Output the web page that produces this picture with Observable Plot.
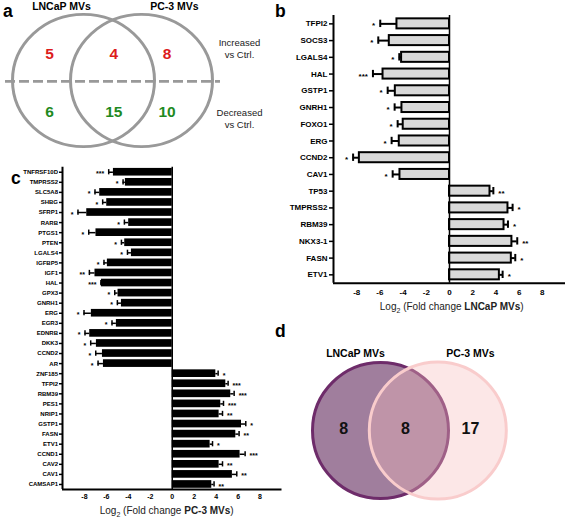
<!DOCTYPE html>
<html><head><meta charset="utf-8">
<script src="https://cdn.jsdelivr.net/npm/d3@7"></script>
<script src="https://cdn.jsdelivr.net/npm/@observablehq/plot@0.6"></script>
<style>
html,body{margin:0;padding:0;background:#fff;}
#fig{position:relative;width:567px;height:517px;overflow:hidden;font-family:"Liberation Sans",Arial,sans-serif;}
#fig > *{position:absolute;}
.lbl{font-weight:bold;font-size:17.5px;line-height:20px;color:#000;}
.ttl{font-size:10px;line-height:12px;color:#222;white-space:nowrap;transform:translate(-50%,-50%);}
.ttl sub{font-size:7px;line-height:0;}
</style></head><body><div id="fig"></div>
<script>
const FONT = "'Liberation Sans', Arial, sans-serif";

// ---- Panel a: Venn (increased / decreased vs Ctrl.)
const aSets = ["LNCaP MVs", "PC-3 MVs"];
const aIncreased = [5, 4, 8];     // LNCaP only, shared, PC-3 only
const aDecreased = [6, 15, 10];
const aRowLabels = ["Increased\nvs Ctrl.", "Decreased\nvs Ctrl."];

// ---- Panel b: LNCaP MVs
const bGenes = ["TFPI2","SOCS3","LGALS4","HAL","GSTP1","GNRH1","FOXO1","ERG","CCND2","CAV1","TP53","TMPRSS2","RBM39","NKX3-1","FASN","ETV1"];
const bValues = [-4.53,-5.19,-4.13,-5.73,-4.67,-4.10,-3.99,-4.33,-7.77,-4.27,3.49,5.04,4.70,5.38,5.33,4.30];
const bSem = [1.44,0.95,0.20,0.87,0.66,0.63,0.48,0.66,0.54,0.63,0.29,0.40,0.34,0.46,0.34,0.28];
const bSig = ["*","*","*","***","*","*","*","*","*","*","**","*","*","**","*","*"];

// ---- Panel c: PC-3 MVs
const cGenes = ["TNFRSF10D","TMPRSS2","SLC5A8","SHBG","SFRP1","RARB","PTGS1","PTEN","LGALS4","IGFBP5","IGF1","HAL","GPX3","GNRH1","ERG","EGR3","EDNRB","DKK3","CCND2","AR","ZNF185","TFPI2","RBM39","PES1","NRIP1","GSTP1","FASN","ETV1","CCND1","CAV2","CAV1","CAMSAP1"];
const cValues = [-5.36,-4.27,-6.61,-5.97,-7.79,-3.97,-6.95,-4.33,-3.72,-5.91,-7.04,-6.45,-4.94,-4.63,-7.37,-5.09,-7.52,-6.91,-6.36,-6.27,3.97,4.88,5.33,4.42,4.27,6.31,5.79,3.45,6.18,4.27,5.48,3.60];
const cSem = [0.43,0.21,0.43,0.37,0.80,0.39,0.66,0.30,0.36,0.31,0.51,0.05,0.30,0.37,0.67,0.40,0.43,0.52,0.61,0.49,0.21,0.21,0.31,0.25,0.31,0.39,0.30,0.22,0.46,0.31,0.40,0.21];
const cSig = ["***","*","*","*","*","*","*","*","*","*","**","***","*","*","*","*","*","*","*","*","*","***","***","***","**","*","**","*","***","**","**","**"];

// ---- Panel d: Venn
const dSets = ["LNCaP MVs", "PC-3 MVs"];
const dCounts = [8, 8, 17];

const xTicks = [-8,-6,-4,-2,0,2,4,6,8];

const fig = document.getElementById("fig");
function place(el, left, top) { el.style.left = left + "px"; el.style.top = top + "px"; fig.appendChild(el); return el; }
function html(cls, inner, left, top) { const d = document.createElement("div"); d.className = cls; d.innerHTML = inner; return place(d, left, top); }

function barPanel(genes, values, sem, sig, o) {
  const rows = genes.map((g, i) => ({i, gene: g, v: values[i], e: values[i] + Math.sign(values[i]) * sem[i], sig: sig[i]}));
  const n = genes.length;
  return Plot.plot({
    width: o.width, height: o.height,
    marginLeft: o.ml, marginRight: o.mr, marginTop: o.mt, marginBottom: o.mb,
    style: {fontFamily: FONT, fontWeight: "bold", fontSize: o.fs + "px", background: "transparent", overflow: "visible"},
    x: {domain: [-10, 10]},
    y: {domain: [-0.5, n - 0.5], reverse: true},
    marks: [
      Plot.ruleY(rows, {y: "i", x1: "v", x2: "e", stroke: "#000", strokeWidth: o.ew}),
      Plot.ruleX(rows, {x: "e", y1: d => d.i - o.cap, y2: d => d.i + o.cap, stroke: "#000", strokeWidth: o.ew}),
      Plot.rect(rows, {x1: 0, x2: "v", y1: d => d.i - o.bh, y2: d => d.i + o.bh, fill: o.fill, stroke: o.stroke, strokeWidth: o.sw}),
      Plot.text(rows.filter(d => d.v < 0), {x: "e", y: "i", text: "sig", textAnchor: "end", dx: -o.sdx, dy: o.sdy, fontSize: o.sfs}),
      Plot.text(rows.filter(d => d.v > 0), {x: "e", y: "i", text: "sig", textAnchor: "start", dx: o.sdx, dy: o.sdy, fontSize: o.sfs}),
      Plot.ruleX([0], {stroke: "#000", strokeWidth: 1.5}),
      Plot.ruleX([-10], {stroke: "#000", strokeWidth: 2}),
      Plot.ruleY([n - 0.5], {stroke: "#000", strokeWidth: 2}),
      Plot.axisY({ticks: rows.map(d => d.i), tickFormat: i => genes[i], tickSize: o.ts, tickPadding: o.tp, strokeWidth: 1.5, label: null, fontSize: o.fs}),
      Plot.axisX({ticks: xTicks, tickFormat: d => String(d), tickSize: 0, tickPadding: o.xtp, label: null, fontSize: o.xfs})
    ]
  });
}

// Panel a
const aCircles = Plot.plot({
  width: 290, height: 172, margin: 0,
  x: {type: "identity", axis: null}, y: {type: "identity", axis: null},
  style: {background: "transparent"},
  marks: [
    Plot.dot(aSets, {x: (d, i) => [83, 141][i], y: 85.9, r: 71, stroke: "#999", strokeWidth: 3, fill: "none"}),
    Plot.ruleY([87], {x1: 5, x2: 220, stroke: "#999", strokeWidth: 3, strokeDasharray: "10,4"})
  ]
});
aCircles.style.transform = "scaleY(0.931)";
aCircles.style.transformOrigin = "0 0";
place(aCircles, 0, 0);

const aCols = [49, 113.3, 166.5];
const aText = Plot.plot({
  width: 290, height: 160, margin: 0,
  x: {type: "identity", axis: null}, y: {type: "identity", axis: null},
  style: {fontFamily: FONT, background: "transparent", overflow: "visible"},
  marks: [
    Plot.text(aSets, {x: (d, i) => [61, 174][i], y: 6.5, text: d => d, fontWeight: "bold", fontSize: 10.5}),
    Plot.text(aIncreased, {x: (d, i) => aCols[i], y: 53.3, text: d => String(d), fontWeight: "bold", fontSize: 15.5, fill: "#dc1c1c"}),
    Plot.text(aDecreased, {x: (d, i) => aCols[i], y: 111.7, text: d => String(d), fontWeight: "bold", fontSize: 15.5, fill: "#1f8a1f"}),
    Plot.text(aRowLabels, {x: 239, y: (d, i) => [48, 117.8][i], text: d => d, fontSize: 9.5, lineHeight: 1.2, fill: "#222"})
  ]
});
place(aText, 0, 0);

// Panel b
place(barPanel(bGenes, bValues, bSem, bSig, {
  width: 277, height: 300, ml: 43, mr: 2, mt: 15, mb: 17.3, fs: 8, xfs: 8,
  ew: 2, cap: 0.22, bh: 0.3, fill: "#d9d9d9", stroke: "#000", sw: 2,
  sdx: 5, sdy: 2, sfs: 8, ts: 4, tp: 2, xtp: 6
}), 290, 0);
html("ttl", "Log<sub>2</sub> (Fold change <b>LNCaP MVs</b>)", 451.7, 306.7);

// Panel c
place(barPanel(cGenes, cValues, cSem, cSig, {
  width: 290, height: 345, ml: 62, mr: 8.5, mt: 6.7, mb: 16, fs: 6, xfs: 7,
  ew: 1.5, cap: 0.26, bh: 0.38, fill: "#000", stroke: "none", sw: 0,
  sdx: 4.5, sdy: 1.8, sfs: 7, ts: 3, tp: 1.5, xtp: 5
}), 0, 160);
html("ttl", "Log<sub>2</sub> (Fold change <b>PC-3 MVs</b>)", 166.7, 510.7);

// Panel d
const dPlot = Plot.plot({
  width: 277, height: 217, margin: 0,
  x: {type: "identity", axis: null}, y: {type: "identity", axis: null},
  style: {fontFamily: FONT, background: "transparent", overflow: "visible"},
  marks: [
    Plot.dot([dSets[0]], {x: 90, y: 130, r: 68, fill: "#a07e9d", stroke: "#6e2c6a", strokeWidth: 3}),
    Plot.dot([dSets[1]], {x: 147.3, y: 130, r: 68.5, fill: "#f7bcbc", fillOpacity: 0.36, stroke: "#f9cccc", strokeWidth: 3}),
    Plot.text(dSets, {x: (d, i) => [65, 180][i], y: 53.3, text: d => d, fontWeight: "bold", fontSize: 10.5}),
    Plot.text(dCounts, {x: (d, i) => [53.3, 115, 180][i], y: 128.3, text: d => String(d), fontWeight: "bold", fontSize: 16, fill: "#111"})
  ]
});
place(dPlot, 290, 300);

// Panel letters
html("lbl", "a", 3, 0.5);
html("lbl", "b", 275, 0.5);
html("lbl", "c", 11, 168);
html("lbl", "d", 275, 320.5);
</script></body></html>
